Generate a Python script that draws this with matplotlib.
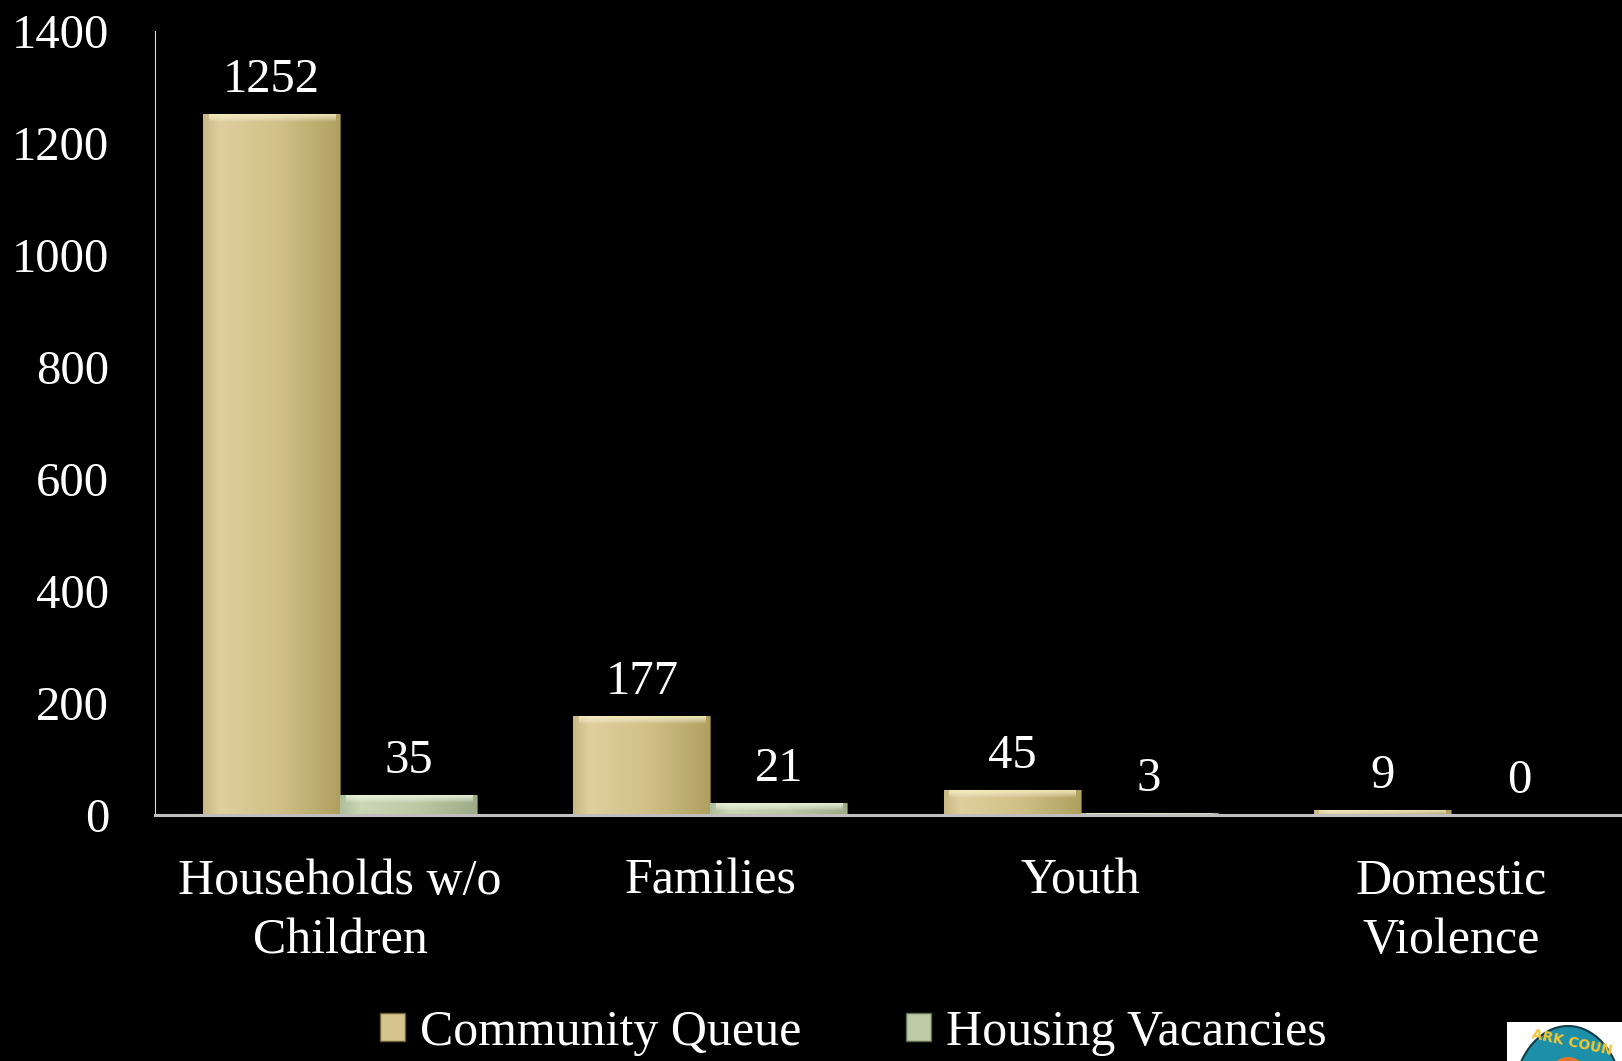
import numpy as np
import matplotlib
matplotlib.use('Agg')
import matplotlib.pyplot as plt
import matplotlib.patches as mpatches
from matplotlib.colors import LinearSegmentedColormap

categories = ['Households w/o\nChildren', 'Families', 'Youth', 'Domestic\nViolence']
community_queue = [1252, 177, 45, 9]
housing_vacancies = [35, 21, 3, 0]
series_names = ['Community Queue', 'Housing Vacancies']

plt.rcParams['font.family'] = ['Liberation Serif', 'DejaVu Serif']

fig = plt.figure(figsize=(16.22, 10.61), dpi=100)
fig.patch.set_facecolor('black')
ax = fig.add_axes([0.0956, 0.2319, 0.913, 0.7389])
ax.set_facecolor('black')

x = np.arange(len(categories))
w = 0.37

# horizontal shading for the bars
cq_cmap = LinearSegmentedColormap.from_list('cq', [(0.0, '#C9B784'), (0.12, '#E0CE9E'),
                                                   (0.55, '#D2C088'), (1.0, '#B0A05F')])
hv_cmap = LinearSegmentedColormap.from_list('hv', [(0.0, '#AEBD9A'), (0.15, '#C9D7B5'),
                                                   (0.55, '#BCCAA6'), (1.0, '#9DAB87')])
grad = np.linspace(0, 1, 256).reshape(1, -1)
vgrad = np.linspace(0, 1, 64).reshape(-1, 1)

def shade(bars, cmap, top_col):
    for b in bars:
        bx, bw, bh = b.get_x(), b.get_width(), b.get_height()
        if bh <= 0:
            continue
        im = ax.imshow(grad, cmap=cmap, extent=[bx, bx + bw, 0, bh], aspect='auto',
                       zorder=2, interpolation='bicubic')
        im.set_clip_path(b)
        # soft bevel along the top edge
        hl = min(bh, 14)
        top = LinearSegmentedColormap.from_list('t', [(0, (1, 1, 1, 0)), (1, top_col)])
        im2 = ax.imshow(vgrad, cmap=top, extent=[bx + bw * 0.04, bx + bw * 0.96, bh - hl, bh],
                        origin='lower', aspect='auto', zorder=3, interpolation='bicubic')
        im2.set_clip_path(b)

b1 = ax.bar(x - w / 2, community_queue, w, color='#D2C088', edgecolor='#6E6036', linewidth=0.8, zorder=2)
b2 = ax.bar(x + w / 2, housing_vacancies, w, color='#BCCAA6', edgecolor='#5F6B52', linewidth=0.8, zorder=2)
shade(b1, cq_cmap, (0.97, 0.93, 0.72, 0.9))
shade(b2, hv_cmap, (0.92, 0.96, 0.86, 0.9))

for bars, vals in [(b1, community_queue), (b2, housing_vacancies)]:
    for b, v in zip(bars, vals):
        ax.annotate(str(v), (b.get_x() + b.get_width() / 2, v), xytext=(0, 16),
                    textcoords='offset points', ha='center', va='baseline',
                    color='white', fontsize=35)

ax.set_xlim(-0.5, len(categories) - 0.5)
ax.set_ylim(0, 1400)
ax.set_yticks(np.arange(0, 1401, 200))
ax.set_xticks(x)
ax.set_xticklabels(categories, fontsize=36, color='white', linespacing=1.38)
ax.tick_params(axis='y', length=0, pad=33, labelsize=35, labelcolor='white')
ax.tick_params(axis='x', length=0, pad=31)

for s in ['top', 'right']:
    ax.spines[s].set_visible(False)
ax.spines['bottom'].set_color('#BFBFBF')
ax.spines['bottom'].set_linewidth(2.2)
ax.spines['bottom'].set_zorder(4)
ax.spines['left'].set_color('#D9D9D9')
ax.spines['left'].set_linewidth(0.8)

handles = [mpatches.Patch(facecolor='#D6C48E', edgecolor='#6E6036', label=series_names[0]),
           mpatches.Patch(facecolor='#BCCAA6', edgecolor='#5F6B52', label=series_names[1])]
fig.legend(handles=handles, loc='center', bbox_to_anchor=(0.526, 0.027), ncol=2, frameon=False,
           fontsize=36, labelcolor='white', handlelength=0.5, handleheight=0.5,
           handletextpad=0.3, columnspacing=2.1, borderpad=0.1)

# partial logo in the corner
fig.add_artist(mpatches.Rectangle((1507 / 1622, 0), 115 / 1622, 39 / 1061, transform=fig.transFigure,
                                  facecolor='white', edgecolor='none'))
fig.add_artist(mpatches.Ellipse((1568 / 1622, -40 / 1061), 110 / 1622, 150 / 1061, transform=fig.transFigure,
                                facecolor='#1E8FA8', edgecolor='#123C4A', linewidth=1.5))
fig.add_artist(mpatches.Ellipse((1568 / 1622, -14 / 1061), 36 / 1622, 36 / 1061, transform=fig.transFigure,
                                facecolor='#E8742A', edgecolor='none'))
fig.text(1572 / 1622, 18 / 1061, 'ARK COUN', transform=fig.transFigure, fontsize=10,
         color='#F3C531', ha='center', va='center', rotation=-12, family='DejaVu Sans', weight='bold')

fig.savefig('out.png', dpi=100, facecolor='black')
